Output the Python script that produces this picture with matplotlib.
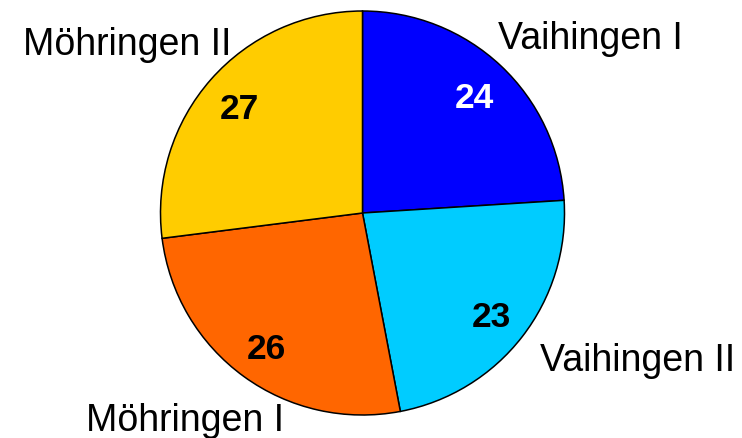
import matplotlib.pyplot as plt

labels = ["Vaihingen I", "Vaihingen II", "Möhringen I", "Möhringen II"]
values = [24, 23, 26, 27]
colors = ["#0000FF", "#00CCFF", "#FF6600", "#FFCC00"]
pct_colors = ["white", "black", "black", "black"]

# label anchor (left, baseline) in pie radius units
label_pos = [(0.67, 0.81), (0.88, -0.78), (-1.37, -1.08), (-1.68, 0.78)]

plt.rcParams['font.family'] = ['Liberation Sans', 'DejaVu Sans']

fig = plt.figure(figsize=(7.42, 4.38), dpi=100)
ax = fig.add_axes([0, 0, 1, 1])

wedges, texts, autotexts = ax.pie(
    values, colors=colors, startangle=90, counterclock=False,
    radius=1.0, autopct=lambda p: f"{p:.0f}", pctdistance=0.81,
    wedgeprops=dict(edgecolor="black", linewidth=1.1),
    textprops=dict(fontsize=25.5, fontweight="bold"))

for t, c in zip(autotexts, pct_colors):
    t.set_color(c)
    x, y = t.get_position()
    t.set_position((x, y - 0.022))

for lab, (x, y) in zip(labels, label_pos):
    ax.text(x, y, lab, fontsize=27, ha="left", va="baseline")

r = 202.0
cx, cy = 362.5, 213.0
ax.set_xlim(-cx / r, (742 - cx) / r)
ax.set_ylim(-(438 - cy) / r, cy / r)
ax.set_aspect("equal")
ax.axis("off")

fig.savefig("out.png", dpi=100)
